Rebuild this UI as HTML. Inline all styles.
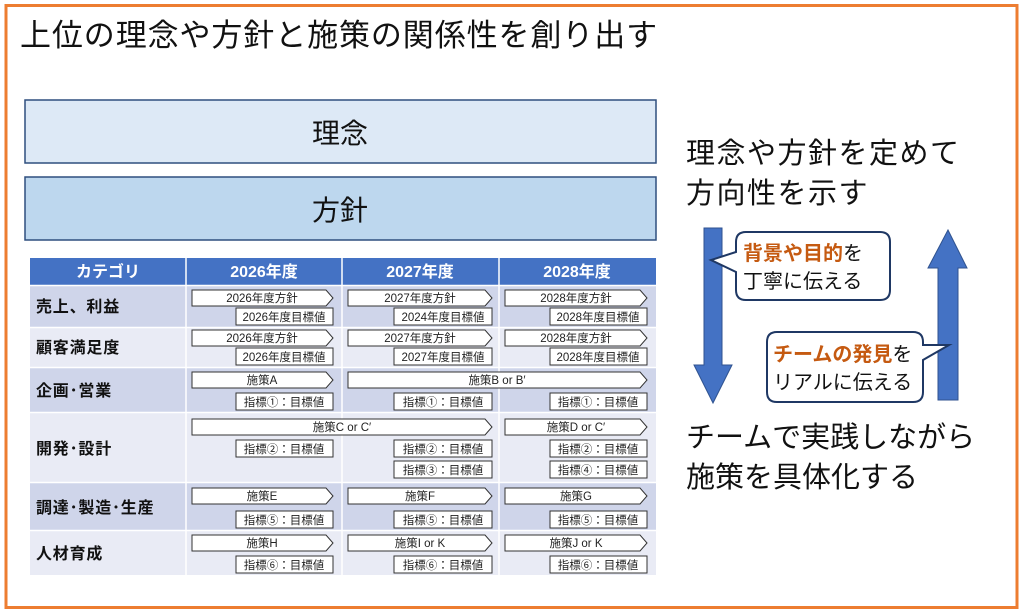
<!DOCTYPE html>
<html><head><meta charset="utf-8"><style>
html,body{margin:0;padding:0;background:#fff}
svg{display:block}
text{font-family:"Liberation Sans","Noto Sans CJK JP",sans-serif}
.s{font-size:11.5px;fill:#222;text-anchor:middle}
.c{font-size:16px;font-weight:bold;fill:#111;letter-spacing:0.8px}
.h{font-size:16px;font-weight:bold;fill:#fff;text-anchor:middle}
.big{font-size:29px;fill:#111}
</style></head><body>
<svg width="1024" height="613" viewBox="0 0 1024 613">
<rect x="6" y="5.5" width="1011" height="602" fill="#fff" stroke="#ed7d31" stroke-width="3"/>
<text x="20" y="46" font-size="31" letter-spacing="0.9" fill="#111">上位の理念や方針と施策の関係性を創り出す</text>
<rect x="25" y="100" width="631" height="63" fill="#dde9f6" stroke="#2f4f7f" stroke-width="1.5"/>
<text x="340" y="143" font-size="28" text-anchor="middle" fill="#111">理念</text>
<rect x="25" y="177" width="631" height="63" fill="#bdd7ee" stroke="#2f4f7f" stroke-width="1.5"/>
<text x="340" y="220" font-size="28" text-anchor="middle" fill="#111">方針</text>
<rect x="30" y="258" width="626" height="27" fill="#4472c4"/>
<rect x="30" y="286" width="626" height="41" fill="#cfd5ea"/>
<rect x="30" y="328" width="626" height="39" fill="#e9ebf5"/>
<rect x="30" y="368" width="626" height="44" fill="#cfd5ea"/>
<rect x="30" y="413" width="626" height="69" fill="#e9ebf5"/>
<rect x="30" y="483" width="626" height="47" fill="#cfd5ea"/>
<rect x="30" y="531" width="626" height="44" fill="#e9ebf5"/>
<g stroke="#fff" stroke-width="1.5">
<line x1="186" y1="258" x2="186" y2="575"/><line x1="342" y1="258" x2="342" y2="575"/><line x1="499" y1="258" x2="499" y2="575"/>
<line x1="30" y1="285.5" x2="656" y2="285.5"/><line x1="30" y1="327.5" x2="656" y2="327.5"/><line x1="30" y1="367.5" x2="656" y2="367.5"/><line x1="30" y1="412.5" x2="656" y2="412.5"/><line x1="30" y1="482.5" x2="656" y2="482.5"/><line x1="30" y1="530.5" x2="656" y2="530.5"/>
</g>
<text class="h" x="108" y="277">カテゴリ</text>
<text class="h" x="264" y="277">2026年度</text>
<text class="h" x="420" y="277">2027年度</text>
<text class="h" x="577" y="277">2028年度</text>
<text class="c" x="36" y="312">売上、利益</text>
<text class="c" x="36" y="353">顧客満足度</text>
<text class="c" x="36" y="396">企画･営業</text>
<text class="c" x="36" y="454">開発･設計</text>
<text class="c" x="36" y="513">調達･製造･生産</text>
<text class="c" x="36" y="559">人材育成</text>
<g fill="#fff" stroke="#333" stroke-width="1">
<polygon points="192,290 326,290 333,298 326,306 192,306"/>
<polygon points="348,290 485,290 492,298 485,306 348,306"/>
<polygon points="505,290 640,290 647,298 640,306 505,306"/>
<rect x="236" y="308" width="97" height="17"/><rect x="394" y="308" width="98" height="17"/><rect x="550" y="308" width="97" height="17"/>
<polygon points="192,330 326,330 333,338 326,346 192,346"/>
<polygon points="348,330 485,330 492,338 485,346 348,346"/>
<polygon points="505,330 640,330 647,338 640,346 505,346"/>
<rect x="236" y="348" width="97" height="17"/><rect x="394" y="348" width="98" height="17"/><rect x="550" y="348" width="97" height="17"/>
<polygon points="192,372 326,372 333,380 326,388 192,388"/>
<polygon points="348,372 640,372 647,380 640,388 348,388"/>
<rect x="236" y="393" width="97" height="17"/><rect x="394" y="393" width="98" height="17"/><rect x="550" y="393" width="97" height="17"/>
<polygon points="192,419 485,419 492,427 485,435 192,435"/>
<polygon points="505,419 640,419 647,427 640,435 505,435"/>
<rect x="236" y="440" width="97" height="17"/><rect x="394" y="440" width="98" height="17"/><rect x="550" y="440" width="97" height="17"/>
<rect x="394" y="461" width="98" height="17"/><rect x="550" y="461" width="97" height="17"/>
<polygon points="192,488 326,488 333,496 326,504 192,504"/>
<polygon points="348,488 485,488 492,496 485,504 348,504"/>
<polygon points="505,488 640,488 647,496 640,504 505,504"/>
<rect x="236" y="511" width="97" height="17"/><rect x="394" y="511" width="98" height="17"/><rect x="550" y="511" width="97" height="17"/>
<polygon points="192,535 326,535 333,543 326,551 192,551"/>
<polygon points="348,535 485,535 492,543 485,551 348,551"/>
<polygon points="505,535 640,535 647,543 640,551 505,551"/>
<rect x="236" y="556" width="97" height="17"/><rect x="394" y="556" width="98" height="17"/><rect x="550" y="556" width="97" height="17"/>
</g>
<g>
<text class="s" x="262" y="302">2026年度方針</text><text class="s" x="420" y="302">2027年度方針</text><text class="s" x="576" y="302">2028年度方針</text>
<text class="s" x="284" y="321">2026年度目標値</text><text class="s" x="443" y="321">2024年度目標値</text><text class="s" x="598" y="321">2028年度目標値</text>
<text class="s" x="262" y="342">2026年度方針</text><text class="s" x="420" y="342">2027年度方針</text><text class="s" x="576" y="342">2028年度方針</text>
<text class="s" x="284" y="361">2026年度目標値</text><text class="s" x="443" y="361">2027年度目標値</text><text class="s" x="598" y="361">2028年度目標値</text>
<text class="s" x="262" y="384">施策A</text><text class="s" x="497" y="384">施策B or B′</text>
<text class="s" x="284" y="406">指標①：目標値</text><text class="s" x="443" y="406">指標①：目標値</text><text class="s" x="598" y="406">指標①：目標値</text>
<text class="s" x="342" y="431">施策C or C′</text><text class="s" x="576" y="431">施策D or C′</text>
<text class="s" x="284" y="453">指標②：目標値</text><text class="s" x="443" y="453">指標②：目標値</text><text class="s" x="598" y="453">指標②：目標値</text>
<text class="s" x="443" y="474">指標③：目標値</text><text class="s" x="598" y="474">指標④：目標値</text>
<text class="s" x="262" y="500">施策E</text><text class="s" x="420" y="500">施策F</text><text class="s" x="576" y="500">施策G</text>
<text class="s" x="284" y="524">指標⑤：目標値</text><text class="s" x="443" y="524">指標⑤：目標値</text><text class="s" x="598" y="524">指標⑤：目標値</text>
<text class="s" x="262" y="547">施策H</text><text class="s" x="420" y="547">施策I or K</text><text class="s" x="576" y="547">施策J or K</text>
<text class="s" x="284" y="569">指標⑥：目標値</text><text class="s" x="443" y="569">指標⑥：目標値</text><text class="s" x="598" y="569">指標⑥：目標値</text>
</g>
<text class="big" x="686" y="163" letter-spacing="1.5">理念や方針を定めて</text>
<text class="big" x="686" y="203" letter-spacing="1.5">方向性を示す</text>
<text class="big" x="686" y="447">チームで実践しながら</text>
<text class="big" x="686" y="487">施策を具体化する</text>
<polygon points="704,228 722,228 722,365 732,365 713,403 694,365 704,365" fill="#4472c4" stroke="#2f528f" stroke-width="1"/>
<polygon points="938,400 958,400 958,268 967,268 948,230 928,268 938,268" fill="#4472c4" stroke="#2f528f" stroke-width="1"/>
<path d="M746,232 H880 Q890,232 890,242 V290 Q890,300 880,300 H746 Q736,300 736,290 V272 L711,260 L736,252 V242 Q736,232 746,232 Z" fill="#fff" stroke="#1f3864" stroke-width="2"/>
<text x="743" y="260" font-size="20" font-weight="bold" fill="#c55a11">背景や目的<tspan fill="#111" font-weight="normal">を</tspan></text>
<text x="743" y="288" font-size="20" fill="#111">丁寧に伝える</text>
<path d="M777,332 H913 Q923,332 923,342 V345 L949,345 L923,360 V392 Q923,402 913,402 H777 Q767,402 767,392 V342 Q767,332 777,332 Z" fill="#fff" stroke="#1f3864" stroke-width="2"/>
<text x="773" y="361" font-size="20" font-weight="bold" fill="#c55a11">チームの発見<tspan fill="#111" font-weight="normal">を</tspan></text>
<text x="773" y="389" font-size="20" fill="#111">リアルに伝える</text>
</svg>
</body></html>
